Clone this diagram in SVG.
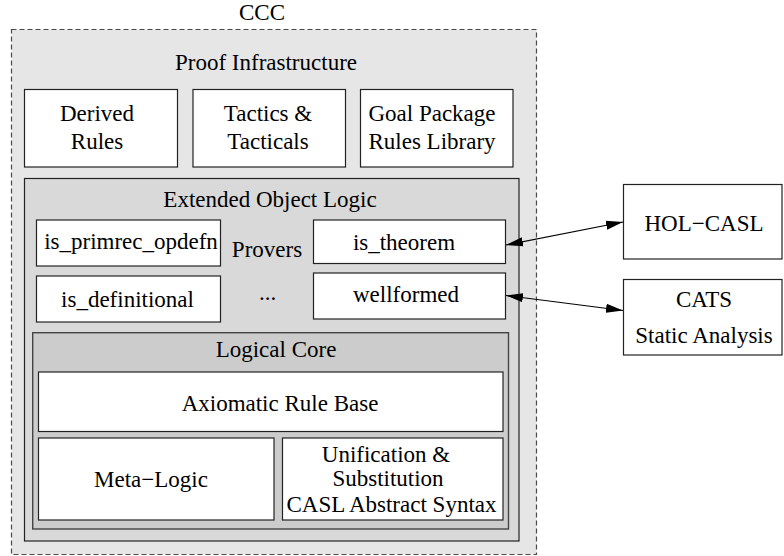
<svg xmlns="http://www.w3.org/2000/svg" width="784" height="556" viewBox="0 0 784 556" font-family="Liberation Serif, DejaVu Serif, serif" font-size="23">
  <style>
    text { font-family: 'Liberation Serif', 'DejaVu Serif', serif; font-size: 23px; fill: #000; text-anchor: middle; }
    .box { fill: #fff; stroke: #222; stroke-width: 1.2; }
    .ccc { fill: #e6e6e6; stroke: #4a4a4a; stroke-width: 1.2; stroke-dasharray: 5 3; }
    .eol { fill: #d9d9d9; stroke: #222; stroke-width: 1.2; }
    .core { fill: #cccccc; stroke: #444; stroke-width: 1.4; }
    .link { stroke: #000; stroke-width: 1.2; fill: none; marker-start: url(#head); marker-end: url(#head); }
  </style>
  <defs>
    <marker id="head" markerUnits="userSpaceOnUse" markerWidth="18" markerHeight="10" refX="17" refY="5" orient="auto-start-reverse">
      <path d="M0,0.5 L17,5 L0,9.5 z" fill="#000"/>
    </marker>
  </defs>

  <!-- CCC container -->
  <g id="ccc">
    <rect class="ccc" x="11.5" y="29.5" width="525" height="525"/>
    <text x="262" y="20">CCC</text>
    <text x="266" y="70">Proof Infrastructure</text>
  </g>

  <g id="derived-rules">
    <rect class="box" x="24.5" y="89.5" width="153" height="77.5"/>
    <text x="97" y="121">Derived</text>
    <text x="97" y="148.5">Rules</text>
  </g>
  <g id="tactics">
    <rect class="box" x="193" y="89.5" width="152.5" height="77.5"/>
    <text x="268" y="121">Tactics &amp;</text>
    <text x="268" y="148.5">Tacticals</text>
  </g>
  <g id="goal-package">
    <rect class="box" x="360.5" y="89.5" width="152.5" height="77.5"/>
    <text x="432" y="121">Goal Package</text>
    <text x="432" y="148.5">Rules Library</text>
  </g>

  <!-- Extended Object Logic -->
  <g id="extended-object-logic">
    <rect class="eol" x="24.5" y="178.5" width="494.5" height="362.5"/>
    <text x="270" y="207">Extended Object Logic</text>
    <text x="267" y="257">Provers</text>
    <text x="267.5" y="300">...</text>
  </g>
  <g id="is-primrec-opdefn">
    <rect class="box" x="36.5" y="220" width="184" height="46"/>
    <text x="131" y="248.5">is_primrec_opdefn</text>
  </g>
  <g id="is-definitional">
    <rect class="box" x="36.5" y="276" width="184" height="46"/>
    <text x="127.5" y="307">is_definitional</text>
  </g>
  <g id="is-theorem">
    <rect class="box" x="313.5" y="220" width="192" height="43.5"/>
    <text x="404" y="249.5">is_theorem</text>
  </g>
  <g id="wellformed">
    <rect class="box" x="313.5" y="273" width="192" height="46"/>
    <text x="406" y="302">wellformed</text>
  </g>

  <!-- Logical Core -->
  <g id="logical-core">
    <rect class="core" x="32.7" y="332.7" width="475.8" height="196.3"/>
    <text x="276" y="357">Logical Core</text>
  </g>
  <g id="axiomatic-rule-base">
    <rect class="box" x="38.5" y="372" width="464.5" height="59.5"/>
    <text x="280" y="410.5">Axiomatic Rule Base</text>
  </g>
  <g id="meta-logic">
    <rect class="box" x="38.5" y="438" width="235.5" height="82"/>
    <text x="151" y="487">Meta−Logic</text>
  </g>
  <g id="unification">
    <rect class="box" x="282.5" y="438" width="220.5" height="82"/>
    <text x="386" y="462">Unification &amp;</text>
    <text x="388" y="486">Substitution</text>
    <text x="391.5" y="511.7">CASL Abstract Syntax</text>
  </g>

  <!-- External tools -->
  <g id="hol-casl">
    <rect class="box" x="623.5" y="184.5" width="158.5" height="74.5"/>
    <text x="704" y="231">HOL−CASL</text>
  </g>
  <g id="cats">
    <rect class="box" x="623.5" y="279.5" width="158.5" height="75.5"/>
    <text x="704" y="306.7">CATS</text>
    <text x="704" y="342.7">Static Analysis</text>
  </g>

  <g id="connectors">
    <line class="link" x1="506" y1="245" x2="623" y2="222"/>
    <line class="link" x1="506" y1="295.5" x2="623" y2="310.5"/>
  </g>
</svg>
